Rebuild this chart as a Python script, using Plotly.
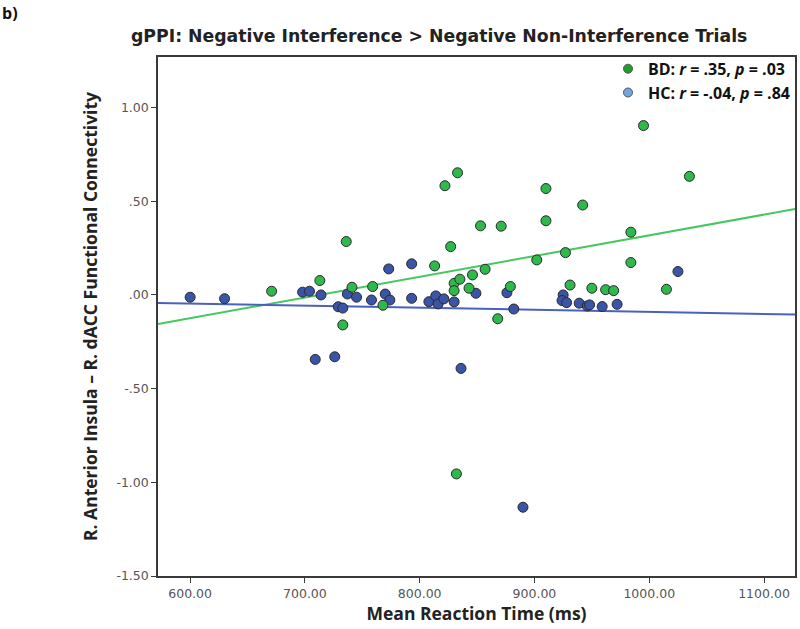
import numpy as np
import plotly.graph_objects as go

# BD group (green)
bd_rt = [671, 713, 736, 741, 733, 759, 768, 813, 827, 830, 835, 830, 846, 843, 857,
         868, 879, 902, 927, 931, 833, 822, 910, 910, 853, 871, 995, 1035, 942, 984,
         984, 950, 962, 969, 1015, 832]
bd_fc = [0.02, 0.077, 0.285, 0.041, -0.16, 0.045, -0.055, 0.155, 0.258, 0.062, 0.084,
         0.023, 0.107, 0.036, 0.137, -0.127, 0.045, 0.187, 0.226, 0.053, 0.652, 0.583,
         0.568, 0.396, 0.369, 0.367, 0.904, 0.633, 0.48, 0.335, 0.173, 0.036, 0.028,
         0.023, 0.03, -0.955]

# HC group (blue)
hc_rt = [600, 630, 698, 704, 714, 737, 745, 729, 733, 709, 726, 758, 773, 770, 774,
         793, 793, 808, 814, 816, 821, 830, 849, 882, 876, 836, 925, 924, 928, 939,
         946, 948, 959, 972, 1025, 890]
hc_fc = [-0.012, -0.02, 0.015, 0.02, 0.0, 0.005, -0.012, -0.063, -0.07, -0.344, -0.33,
         -0.027, 0.139, 0.005, -0.027, 0.166, -0.018, -0.036, -0.005, -0.048, -0.021,
         -0.037, 0.009, -0.075, 0.012, -0.392, 0.0, -0.03, -0.041, -0.044, -0.059,
         -0.053, -0.062, -0.05, 0.125, -1.133]

x_ticks = [600, 700, 800, 900, 1000, 1100]
x_ticktext = ["600.00", "700.00", "800.00", "900.00", "1000.00", "1100.00"]
y_ticks = [1.0, 0.5, 0.0, -0.5, -1.0, -1.5]
y_ticktext = ["1.00", ".50", ".00", "-.50", "-1.00", "-1.50"]
x_range = [572, 1127]
y_range = [-1.5, 1.27]

bd_label = "<b>BD: <i>r</i> = .35, <i>p</i> = .03</b>"
hc_label = "<b>HC: <i>r</i> = -.04, <i>p</i> = .84</b>"

GREEN = "#2fb84c"
BLUE = "#3a55a8"
GREEN_LINE = "#45c860"
BLUE_LINE = "#4a62bf"

fig = go.Figure()

xs = np.array(x_range, dtype=float)
bd_fit = np.polyfit(bd_rt, bd_fc, 1)
hc_fit = np.polyfit(hc_rt, hc_fc, 1)

fig.add_trace(go.Scatter(x=xs, y=np.polyval(bd_fit, xs), mode="lines",
                         line=dict(color=GREEN_LINE, width=2), showlegend=False, hoverinfo="skip"))
fig.add_trace(go.Scatter(x=xs, y=np.polyval(hc_fit, xs), mode="lines",
                         line=dict(color=BLUE_LINE, width=2), showlegend=False, hoverinfo="skip"))

marker_line = dict(color="#2a2a2a", width=1)
fig.add_trace(go.Scatter(x=hc_rt, y=hc_fc, mode="markers", showlegend=False,
                         marker=dict(size=10, color=BLUE, line=marker_line)))
fig.add_trace(go.Scatter(x=bd_rt, y=bd_fc, mode="markers", showlegend=False,
                         marker=dict(size=10, color=GREEN, line=marker_line)))

# legend entries
fig.add_trace(go.Scatter(x=[None], y=[None], mode="markers", name=bd_label,
                         marker=dict(size=9, color="#1e9e28", line=dict(color="#555", width=1))))
fig.add_trace(go.Scatter(x=[None], y=[None], mode="markers", name=hc_label,
                         marker=dict(size=9, color="#6fa8e0", line=dict(color="#555", width=1))))

axis_common = dict(showgrid=False, zeroline=False, showline=True, linecolor="#3a3a3a",
                   linewidth=1.5, mirror=True, ticks="outside", ticklen=5, tickwidth=1.2,
                   tickcolor="#3a3a3a", tickfont=dict(family="DejaVu Sans", size=12.5, color="#555"))

fig.update_xaxes(range=x_range, tickvals=x_ticks, ticktext=x_ticktext,
                 title=dict(text="<b>Mean Reaction Time (ms)</b>", standoff=2,
                            font=dict(family="Open Sans", size=17.5, color="#222")),
                 **axis_common)
fig.update_yaxes(range=y_range, tickvals=y_ticks, ticktext=y_ticktext,
                 title=dict(text="<b>R. Anterior Insula – R. dACC Functional Connectivity</b>", standoff=14,
                            font=dict(family="Open Sans", size=17.5, color="#222")),
                 **axis_common)

fig.update_layout(
    width=800, height=629,
    margin=dict(l=158, r=3, t=57, b=53),
    paper_bgcolor="white", plot_bgcolor="white",
    title=dict(text="<b>gPPI: Negative Interference > Negative Non-Interference Trials</b>",
               x=0.549, xanchor="center", y=0.943, yanchor="middle",
               font=dict(family="DejaVu Sans", size=17.3, color="#222")),
    legend=dict(x=1.0, xanchor="right", y=1.01, yanchor="top", bgcolor="rgba(0,0,0,0)",
                font=dict(family="Open Sans", size=16, color="#111"), itemwidth=30,
                tracegroupgap=0),
    annotations=[dict(text="<b>b)</b>", x=0, y=1, xref="paper", yref="paper",
                      xshift=-158, yshift=57, xanchor="left", yanchor="top", showarrow=False,
                      font=dict(family="Open Sans", size=16, color="#111"))],
)

fig.write_html("out.html", config={"displayModeBar": False},
               post_script="document.body.style.margin='0';document.body.style.overflow='hidden';")
